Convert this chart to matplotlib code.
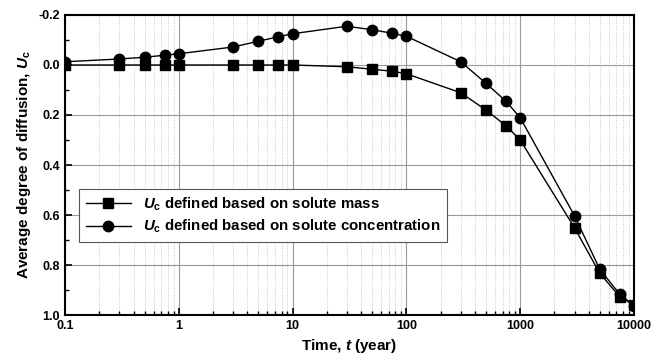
import numpy as np
import matplotlib.pyplot as plt
from matplotlib.ticker import LogLocator, MultipleLocator, FixedLocator, FixedFormatter

plt.rcParams['font.family'] = ['Liberation Sans', 'DejaVu Sans']
plt.rcParams['font.weight'] = 'bold'
plt.rcParams['mathtext.fontset'] = 'custom'
plt.rcParams['mathtext.it'] = 'Liberation Sans:bold:italic'
plt.rcParams['mathtext.rm'] = 'Liberation Sans:bold'
plt.rcParams['mathtext.bf'] = 'Liberation Sans:bold'

# time (year)
t = [0.1, 0.3, 0.5, 0.75, 1, 3, 5, 7.5, 10, 30, 50, 75, 100, 300, 500, 750, 1000, 3000, 5000, 7500, 10000]

# Uc based on solute mass
uc_mass = [0.0, 0.0, 0.0, 0.0, 0.0, 0.0, 0.0, 0.0, 0.0, 0.007, 0.017, 0.025, 0.035,
           0.111, 0.18, 0.243, 0.30, 0.651, 0.833, 0.927, 0.961]

# Uc based on solute concentration
uc_conc = [-0.013, -0.024, -0.031, -0.039, -0.045, -0.072, -0.095, -0.113, -0.125,
           -0.155, -0.141, -0.127, -0.115, -0.013, 0.073, 0.145, 0.211, 0.603, 0.817, 0.917, 0.962]

fig = plt.figure(figsize=(6.52, 3.63), dpi=100)
ax = fig.add_axes([0.0997, 0.1322, 0.8727, 0.8265])

ax.plot(t, uc_mass, 'k-', marker='s', markersize=6.5, lw=1,
        label=r'$U_{\mathrm{c}}$ defined based on solute mass', zorder=3)
ax.plot(t, uc_conc, 'k-', marker='o', markersize=7.5, lw=1,
        label=r'$U_{\mathrm{c}}$ defined based on solute concentration', zorder=3)

ax.set_xscale('log')
ax.set_xlim(0.1, 10000)
ax.set_ylim(1.0, -0.2)

ax.xaxis.set_major_locator(FixedLocator([0.1, 1, 10, 100, 1000, 10000]))
ax.xaxis.set_major_formatter(FixedFormatter(['0.1', '1', '10', '100', '1000', '10000']))
ax.xaxis.set_minor_locator(LogLocator(base=10, subs=np.arange(2, 10)))
ax.yaxis.set_major_locator(MultipleLocator(0.2))
ax.yaxis.set_minor_locator(MultipleLocator(0.1))
ax.yaxis.set_major_formatter(plt.FuncFormatter(lambda v, p: f'{v:.1f}'))

ax.grid(True, which='major', color='#999999', lw=0.8)
ax.grid(True, which='minor', axis='x', color='#bbbbbb', lw=0.6, ls=':')

ax.tick_params(which='both', direction='in', labelsize=9)
ax.tick_params(which='major', length=5, width=1.2)
ax.tick_params(which='minor', length=3, width=1)
for s in ax.spines.values():
    s.set_linewidth(1.5)

ax.set_xlabel(r'Time, $t$ (year)', fontsize=11, fontweight='bold')
ax.set_ylabel(r'Average degree of diffusion, $U_{\mathrm{c}}$', fontsize=11, fontweight='bold')

leg = ax.legend(loc='lower left', bbox_to_anchor=(0.0246, 0.243), borderaxespad=0,
                fontsize=10.8, frameon=True, fancybox=False, edgecolor='#555555',
                framealpha=1, handlelength=3, borderpad=0.45, labelspacing=0.35)
leg.get_frame().set_linewidth(0.8)

fig.savefig('out.png', dpi=100)
